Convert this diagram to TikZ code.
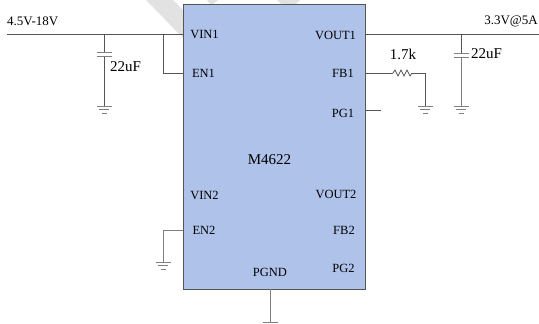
\documentclass[tikz,border=0pt]{standalone}
\usepackage{fontspec}
\setmainfont{Liberation Serif}
\usepackage{tikz}
\usetikzlibrary{arrows.meta,positioning,decorations.pathmorphing}
\definecolor{chipblue}{RGB}{174,194,234}
\definecolor{wiregray}{RGB}{85,85,85}
\definecolor{markgray}{RGB}{226,226,226}
\tikzset{
    wire/.style={draw=wiregray,line width=0.7pt},
    pinlabel/.style={font=\fontsize{12.5}{14}\selectfont,inner sep=0pt},
    valuelabel/.style={font=\fontsize{15}{17}\selectfont,inner sep=0pt}
}
% one ground symbol hanging under a named coordinate
\newcommand{\gndsym}[1]{
    \draw[wire,gray] ([xshift=-7.5]#1) -- ([xshift=7.5]#1);
    \draw[wire,gray] ([xshift=-5,yshift=-3.5]#1) -- ([xshift=5,yshift=-3.5]#1);
    \draw[wire,gray] ([xshift=-2.5,yshift=-7]#1) -- ([xshift=2.5,yshift=-7]#1);
}
\begin{document}
\begin{tikzpicture}[x=1pt,y=-1pt]
\useasboundingbox (0,0) rectangle (539,324);

% Watermark behind the chip
\fill[markgray] (146,0) -- (173,0) -- (183,10) -- (183,38) -- cycle;
\fill[markgray] (207,0) -- (218,0) -- (213,4) -- (210,4) -- cycle;
\fill[markgray] (277,0) -- (300,0) -- (296,4) -- (281,4) -- cycle;

% Chip
\node[draw=wiregray,fill=chipblue,line width=0.8pt,minimum width=182,minimum height=285,inner sep=0pt] (chip) at (274,146.5) {};
\node[font=\fontsize{15}{17}\selectfont,inner sep=0pt] (name) at (269.5,160) {M4622};

% Pins
\node[pinlabel] (vinone) at (204.5,34) {VIN1};
\node[pinlabel] (enone) at (203.5,73) {EN1};
\node[pinlabel] (vintwo) at (204.5,195) {VIN2};
\node[pinlabel] (entwo) at (204,230) {EN2};
\node[pinlabel] (voutone) at (335.5,35) {VOUT1};
\node[pinlabel] (fbone) at (343,73) {FB1};
\node[pinlabel] (pgone) at (343,113) {PG1};
\node[pinlabel] (vouttwo) at (336,194) {VOUT2};
\node[pinlabel] (fbtwo) at (344,230) {FB2};
\node[pinlabel] (pgtwo) at (343.5,268) {PG2};
\node[pinlabel] (pgnd) at (270,272) {PGND};

% Input side
\coordinate (vinleft) at (7,34.5);
\coordinate (vinend) at (183,34.5);
\coordinate (captopl) at (104,52);
\coordinate (capbotl) at (104,56);
\coordinate (gndl) at (104,106);
\coordinate (enjoin) at (163,34.5);
\coordinate (enend) at (183,73);
\node[font=\fontsize{13}{15}\selectfont,inner sep=0pt,anchor=west] (vinval) at (7,21) {4.5V-18V};
\node[valuelabel,anchor=west] (capl) at (110,67) {22uF};
\draw[wire] (vinleft) -- (vinend);
\draw[wire] (vinleft -| captopl) -- (captopl);
\draw[wire] (capbotl) -- (gndl);
\draw[wire,gray] ([xshift=-7.5]captopl) -- ([xshift=7.5]captopl);
\draw[wire,gray] ([xshift=-7.5]capbotl) -- ([xshift=7.5]capbotl);
\gndsym{gndl}
\draw[wire] (enjoin) |- (enend);

% Output side
\coordinate (voutstart) at (365,34.5);
\coordinate (voutend) at (539,34.5);
\coordinate (captopr) at (461,53.5);
\coordinate (capbotr) at (461,57);
\coordinate (gndr) at (461,106);
\node[font=\fontsize{13}{15}\selectfont,inner sep=0pt,anchor=east] (voutval) at (538,21) {3.3V@5A};
\node[valuelabel,anchor=west] (capr) at (471,54) {22uF};
\draw[wire] (voutstart) -- (voutend);
\draw[wire] (voutend -| captopr) -- (captopr);
\draw[wire,gray] (capbotr) -- (gndr);
\draw[wire,gray] ([xshift=-7.5]captopr) -- ([xshift=7.5]captopr);
\draw[wire,gray] ([xshift=-7.5]capbotr) -- ([xshift=7.5]capbotr);
\gndsym{gndr}

% Feedback resistor
\coordinate (fbstart) at (365,73);
\coordinate (resleft) at (393,73);
\coordinate (resright) at (412,73);
\coordinate (fbcorner) at (425,73);
\coordinate (gndfb) at (425,106);
\node[valuelabel] (resval) at (403,54) {1.7k};
\draw[wire] (fbstart) -- (resleft);
\draw[wire] (resleft) -- ++(2,-3) -- ++(3,6) -- ++(3,-6) -- ++(3,6) -- ++(3,-6) -- ++(3,6) -- (resright);
\draw[wire] (resright) -- (fbcorner) -- (gndfb);
\gndsym{gndfb}

% Power good stub
\coordinate (pgstart) at (365,110);
\coordinate (pgend) at (381,110);
\draw[wire] (pgstart) -- (pgend);

% EN2 to ground
\coordinate (entwostart) at (183,230);
\coordinate (gndtwo) at (163,262);
\draw[wire,gray] (entwostart) -| (gndtwo);
\gndsym{gndtwo}

% PGND
\coordinate (pgndstart) at (270,289);
\coordinate (pgndgnd) at (270,322);
\draw[wire,gray] (pgndstart) -- (pgndgnd);
\draw[wire,gray] ([xshift=-7.5]pgndgnd) -- ([xshift=7.5]pgndgnd);
\end{tikzpicture}
\end{document}
